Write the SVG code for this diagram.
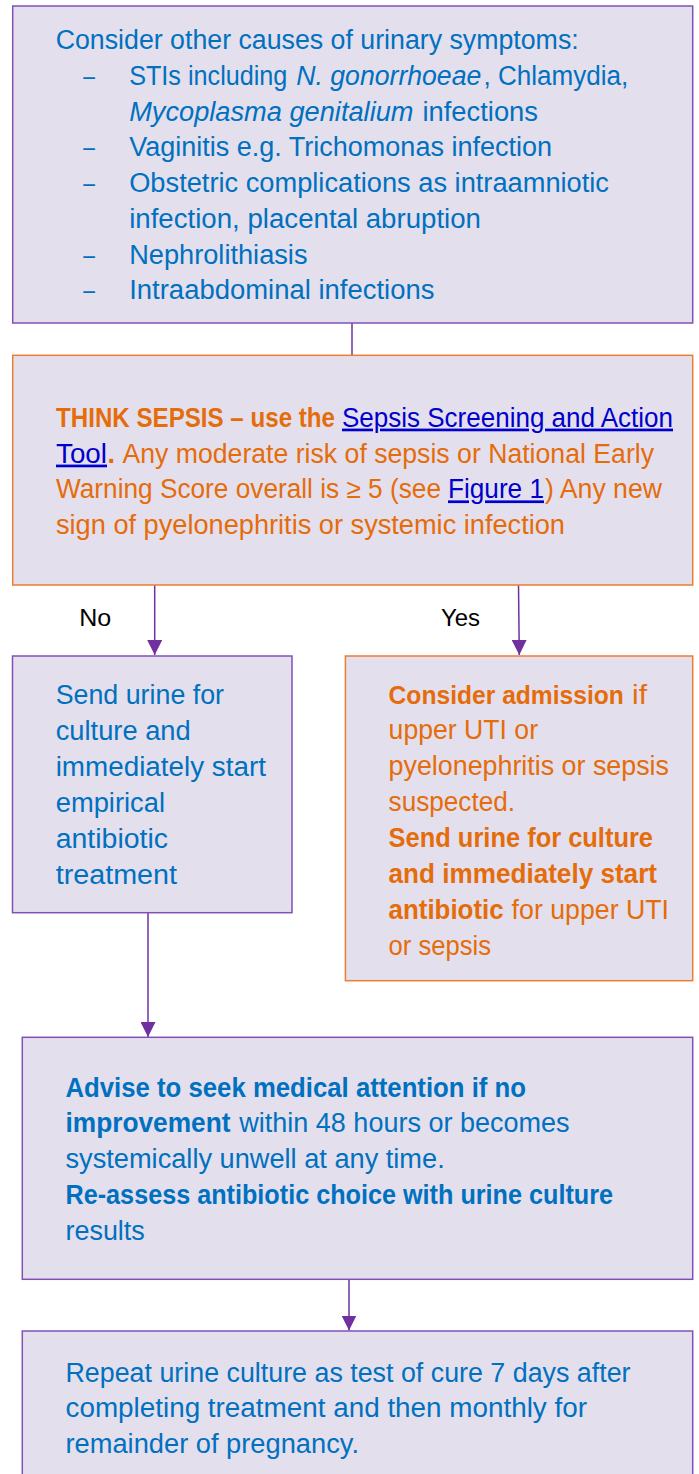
<svg xmlns="http://www.w3.org/2000/svg" width="699" height="1474" viewBox="0 0 699 1474">
<style>
text{font-family:"Liberation Sans",Arial,sans-serif;font-size:27px}
.b{font-weight:bold}
.i{font-style:italic}
.bl{fill:#0070C0}
.or{fill:#E46C0A}
.ln{fill:#0000CC;text-decoration:underline}
.lb{fill:#000;font-size:24px}
.pb{fill:#E4DFEC;stroke:#8050B8;stroke-width:1.5}
.ob{fill:#E4DFEC;stroke:#ED7D31;stroke-width:1.5}
.c{stroke:#7030A0;stroke-width:1.5;fill:none}
</style>
<defs>
<marker id="ah" markerUnits="userSpaceOnUse" markerWidth="15" markerHeight="15" refX="15" refY="7.5" orient="auto">
<path d="M0,0 L15,7.5 L0,15 Z" fill="#7030A0"/>
</marker>
</defs>
<g id="connectors">
<line class="c" x1="352" y1="323" x2="352" y2="355.3"/>
<line class="c" x1="154.7" y1="585.3" x2="154.7" y2="655" marker-end="url(#ah)"/>
<line class="c" x1="518.5" y1="585.3" x2="519.3" y2="655" marker-end="url(#ah)"/>
<line class="c" x1="148" y1="912.7" x2="148" y2="1037" marker-end="url(#ah)"/>
<line class="c" x1="349" y1="1279.3" x2="349" y2="1330.5" marker-end="url(#ah)"/>
<text class="lb" x="79.3" y="626" textLength="32" lengthAdjust="spacingAndGlyphs">No</text>
<text class="lb" x="441" y="626" textLength="39" lengthAdjust="spacingAndGlyphs">Yes</text>
</g>
<g id="node-other-causes">
<rect class="pb" x="12.7" y="6" width="680" height="317"/>
<text class="bl" x="55.7" y="49.3" textLength="523" lengthAdjust="spacingAndGlyphs">Consider other causes of urinary symptoms:</text>
<text class="bl" x="83.3" y="85" textLength="11.7" lengthAdjust="spacingAndGlyphs">–</text>
<text class="bl" x="129.2" y="85" textLength="158.2" lengthAdjust="spacingAndGlyphs">STIs including</text>
<text class="bl i" x="296.3" y="85" textLength="185" lengthAdjust="spacingAndGlyphs">N. gonorrhoeae</text>
<text class="bl" x="483.5" y="85" textLength="144.8" lengthAdjust="spacingAndGlyphs">, Chlamydia,</text>
<text class="bl i" x="129.2" y="120.7" textLength="284.3" lengthAdjust="spacingAndGlyphs">Mycoplasma genitalium</text>
<text class="bl" x="422.5" y="120.7" textLength="115.5" lengthAdjust="spacingAndGlyphs">infections</text>
<text class="bl" x="83.3" y="156.4" textLength="11.7" lengthAdjust="spacingAndGlyphs">–</text>
<text class="bl" x="129.2" y="156.4" textLength="422.8" lengthAdjust="spacingAndGlyphs">Vaginitis e.g. Trichomonas infection</text>
<text class="bl" x="83.3" y="192.1" textLength="11.7" lengthAdjust="spacingAndGlyphs">–</text>
<text class="bl" x="129.2" y="192.1" textLength="479.8" lengthAdjust="spacingAndGlyphs">Obstetric complications as intraamniotic</text>
<text class="bl" x="129.2" y="227.8" textLength="351.8" lengthAdjust="spacingAndGlyphs">infection, placental abruption</text>
<text class="bl" x="83.3" y="263.5" textLength="11.7" lengthAdjust="spacingAndGlyphs">–</text>
<text class="bl" x="129.2" y="263.5" textLength="178.3" lengthAdjust="spacingAndGlyphs">Nephrolithiasis</text>
<text class="bl" x="83.3" y="299.2" textLength="11.7" lengthAdjust="spacingAndGlyphs">–</text>
<text class="bl" x="129.2" y="299.2" textLength="305.3" lengthAdjust="spacingAndGlyphs">Intraabdominal infections</text>
</g>
<g id="node-think-sepsis">
<rect class="ob" x="12.7" y="355.3" width="680" height="229.7"/>
<text class="or b" x="56" y="426.6" textLength="279" lengthAdjust="spacingAndGlyphs">THINK SEPSIS – use the</text>
<text class="ln" x="342" y="426.6" textLength="331" lengthAdjust="spacingAndGlyphs">Sepsis Screening and Action</text>
<text class="ln" x="56" y="462.6" textLength="51" lengthAdjust="spacingAndGlyphs">Tool</text>
<text class="or b" x="107.5" y="462.6">.</text>
<text class="or" x="122.5" y="462.6" textLength="531.5" lengthAdjust="spacingAndGlyphs">Any moderate risk of sepsis or National Early</text>
<text class="or" x="56" y="498.4" textLength="385" lengthAdjust="spacingAndGlyphs">Warning Score overall is ≥ 5 (see</text>
<text class="ln" x="448" y="498.4" textLength="96" lengthAdjust="spacingAndGlyphs">Figure 1</text>
<text class="or" x="545" y="498.4" textLength="117" lengthAdjust="spacingAndGlyphs">) Any new</text>
<text class="or" x="56" y="534.2" textLength="509" lengthAdjust="spacingAndGlyphs">sign of pyelonephritis or systemic infection</text>
</g>
<g id="node-no">
<rect class="pb" x="12.5" y="656" width="279.5" height="256.7"/>
<text class="bl" x="55.7" y="704" textLength="168.3" lengthAdjust="spacingAndGlyphs">Send urine for</text>
<text class="bl" x="55.7" y="740" textLength="135" lengthAdjust="spacingAndGlyphs">culture and</text>
<text class="bl" x="55.7" y="776" textLength="210.3" lengthAdjust="spacingAndGlyphs">immediately start</text>
<text class="bl" x="55.7" y="812" textLength="109.3" lengthAdjust="spacingAndGlyphs">empirical</text>
<text class="bl" x="55.7" y="848" textLength="112.3" lengthAdjust="spacingAndGlyphs">antibiotic</text>
<text class="bl" x="55.7" y="884" textLength="121.3" lengthAdjust="spacingAndGlyphs">treatment</text>
</g>
<g id="node-yes">
<rect class="ob" x="345.4" y="656" width="347.3" height="324.7"/>
<text class="or b" x="388.6" y="703.5" style="font-size:25px" textLength="235.3" lengthAdjust="spacingAndGlyphs">Consider admission</text>
<text class="or" x="632" y="703.5" textLength="15" lengthAdjust="spacingAndGlyphs">if</text>
<text class="or" x="388.6" y="739.4" textLength="149.4" lengthAdjust="spacingAndGlyphs">upper UTI or</text>
<text class="or" x="388.6" y="775.3" textLength="280.4" lengthAdjust="spacingAndGlyphs">pyelonephritis or sepsis</text>
<text class="or" x="388.6" y="811.2" textLength="126.4" lengthAdjust="spacingAndGlyphs">suspected.</text>
<text class="or b" x="388.6" y="847.1" textLength="264.4" lengthAdjust="spacingAndGlyphs">Send urine for culture</text>
<text class="or b" x="388.6" y="883" textLength="268.4" lengthAdjust="spacingAndGlyphs">and immediately start</text>
<text class="or b" x="388.6" y="918.9" textLength="115" lengthAdjust="spacingAndGlyphs">antibiotic</text>
<text class="or" x="511.6" y="918.9" textLength="157.4" lengthAdjust="spacingAndGlyphs">for upper UTI</text>
<text class="or" x="388.6" y="954.8" textLength="102.4" lengthAdjust="spacingAndGlyphs">or sepsis</text>
</g>
<g id="node-advise">
<rect class="pb" x="22.3" y="1037.3" width="670.4" height="242"/>
<text class="bl b" x="65.5" y="1096.5" textLength="460.5" lengthAdjust="spacingAndGlyphs">Advise to seek medical attention if no</text>
<text class="bl b" x="65.5" y="1132.4" textLength="165" lengthAdjust="spacingAndGlyphs">improvement</text>
<text class="bl" x="239.3" y="1132.4" textLength="330.2" lengthAdjust="spacingAndGlyphs">within 48 hours or becomes</text>
<text class="bl" x="65.5" y="1168.3" textLength="379.2" lengthAdjust="spacingAndGlyphs">systemically unwell at any time.</text>
<text class="bl b" x="65.5" y="1204.2" textLength="547.5" lengthAdjust="spacingAndGlyphs">Re-assess antibiotic choice with urine culture</text>
<text class="bl" x="65.5" y="1240" textLength="79.3" lengthAdjust="spacingAndGlyphs">results</text>
</g>
<g id="node-repeat">
<rect class="pb" x="22.3" y="1331" width="670.4" height="150"/>
<text class="bl" x="65.5" y="1381.7" textLength="565" lengthAdjust="spacingAndGlyphs">Repeat urine culture as test of cure 7 days after</text>
<text class="bl" x="65.5" y="1417.3" textLength="521.5" lengthAdjust="spacingAndGlyphs">completing treatment and then monthly for</text>
<text class="bl" x="65.5" y="1453.3" textLength="293.5" lengthAdjust="spacingAndGlyphs">remainder of pregnancy.</text>
</g>
</svg>
